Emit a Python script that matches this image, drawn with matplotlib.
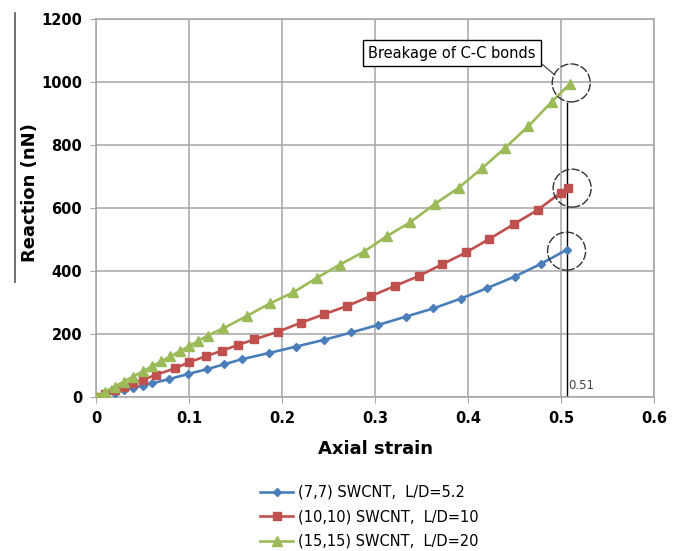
import numpy as np
import matplotlib.pyplot as plt
from matplotlib.lines import Line2D
from matplotlib.patches import Ellipse

# (7,7) SWCNT, L/D=5.2
strain_77 = [0, 0.01, 0.02, 0.03, 0.04, 0.05, 0.06, 0.079, 0.099, 0.119, 0.138, 0.157,
             0.1865, 0.215, 0.2447, 0.2747, 0.3036, 0.333, 0.3625, 0.392, 0.42, 0.45, 0.478, 0.506]
force_77 = [0, 7, 14, 21, 29, 36, 43, 57, 73, 88, 104, 120,
            140, 160, 181, 205, 229, 255, 281, 312, 345, 382, 422, 467]

# (10,10) SWCNT, L/D=10
strain_1010 = [0, 0.01, 0.02, 0.03, 0.04, 0.05, 0.064, 0.085, 0.1, 0.1185, 0.1357, 0.1525,
               0.1704, 0.1954, 0.2205, 0.2455, 0.27, 0.296, 0.321, 0.347, 0.372, 0.398,
               0.423, 0.449, 0.475, 0.50, 0.508]
force_1010 = [0, 11, 22, 33, 43, 54, 70, 91, 110, 130, 147, 165,
              183, 207, 236, 263, 289, 321, 352, 384, 421, 459,
              502, 548, 594, 649, 664]

# (15,15) SWCNT, L/D=20
strain_1515 = [0, 0.01, 0.02, 0.03, 0.04, 0.05, 0.06, 0.07, 0.08, 0.09, 0.1, 0.11, 0.12,
               0.137, 0.162, 0.187, 0.212, 0.238, 0.262, 0.288, 0.313, 0.338, 0.364,
               0.39, 0.415, 0.44, 0.465, 0.49, 0.51]
force_1515 = [0, 17, 33, 49, 65, 81, 97, 113, 129, 145, 161, 178, 195,
              218, 257, 297, 332, 379, 420, 461, 511, 555, 612,
              664, 726, 791, 860, 937, 995]

# breakage points (circled)
break_x = [0.511, 0.512, 0.506]
break_y = [997, 663, 463]

labels = ['(7,7) SWCNT,  L/D=5.2', '(10,10) SWCNT,  L/D=10', '(15,15) SWCNT,  L/D=20']
colors = ['#4a7ebb', '#c0504d', '#9bbb59']

fig = plt.figure(figsize=(6.78, 5.51), dpi=100)
ax = fig.add_axes([96/678, 1-397/551, (654-96)/678, (397-19)/551])

ax.plot(strain_77, force_77, color=colors[0], marker='D', markersize=4.5, lw=1.9, label=labels[0], zorder=3)
ax.plot(strain_1010, force_1010, color=colors[1], marker='s', markersize=5.5, lw=1.9, label=labels[1], zorder=3)
ax.plot(strain_1515, force_1515, color=colors[2], marker='^', markersize=6.5, lw=1.9, label=labels[2], zorder=3)

ax.set_xlim(0, 0.6)
ax.set_ylim(0, 1200)
ax.set_xticks(np.arange(0, 0.61, 0.1))
ax.set_xticklabels(['0', '0.1', '0.2', '0.3', '0.4', '0.5', '0.6'])
ax.set_yticks(np.arange(0, 1201, 200))
ax.grid(True, color='#a6a6a6', lw=1.1)
ax.set_axisbelow(True)
for s in ax.spines.values():
    s.set_color('#a6a6a6')
    s.set_linewidth(1.1)
ax.tick_params(length=4, color='#a6a6a6', labelsize=10.5, pad=6)
for t in ax.get_xticklabels() + ax.get_yticklabels():
    t.set_fontweight('bold')

ax.set_xlabel('Axial strain', fontsize=13, fontweight='bold', labelpad=10)
fig.text(30/678, 1-193/551, 'Reaction (nN)', rotation=90, fontsize=13,
         fontweight='bold', ha='center', va='center')
fig.add_artist(Line2D([15/678, 15/678], [1-13/551, 1-282/551], color='#555555', lw=1.2))

# breakage annotation
ax.plot([0.506, 0.506], [0, 933], color='black', lw=1, zorder=2)
# circle radius ~19 px, converted to data units of each axis
rx = 19 / 558 * 0.6
ry = 19 / 378 * 1200
for bx, by in zip(break_x, break_y):
    ax.add_patch(Ellipse((bx, by), 2*rx, 2*ry, fill=False, ec='#333333', lw=1,
                         ls=(0, (6, 1.5)), zorder=4))
ax.text(0.508, 35, '0.51', fontsize=8.5, color='#444444', ha='left', va='center')
ax.annotate('Breakage of C-C bonds', xy=(0.4935, 1022), xytext=(0.383, 1092),
            fontsize=10.5, ha='center', va='center',
            bbox=dict(boxstyle='square,pad=0.35', fc='white', ec='black', lw=1),
            arrowprops=dict(arrowstyle='-', color='#444444', lw=0.9,
                            shrinkA=0, shrinkB=0, relpos=(1, 0.1)))

fig.legend(loc='upper left', bbox_to_anchor=(254/678, 1-479/551), frameon=False,
           fontsize=10.5, handlelength=2.3, labelspacing=0.65, borderaxespad=0,
           handletextpad=0.3)

fig.savefig('out.png', dpi=100)
